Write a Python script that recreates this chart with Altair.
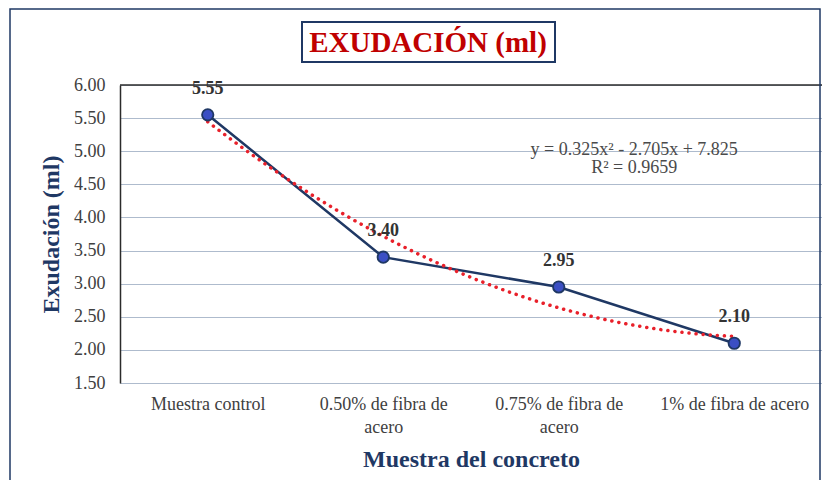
import json
import altair as alt
import pandas as pd

# ---- data ----
categories = ["Muestra control", "0.50% de fibra de acero", "0.75% de fibra de acero", "1% de fibra de acero"]
label_lines = [["Muestra control"], ["0.50% de fibra de", "acero"], ["0.75% de fibra de", "acero"], ["1% de fibra de acero"]]
positions = [1, 2, 3, 4]
exudacion = [5.55, 3.40, 2.95, 2.10]
value_labels = ["5.55", "3.40", "2.95", "2.10"]
y_ticks = [1.5, 2.0, 2.5, 3.0, 3.5, 4.0, 4.5, 5.0, 5.5, 6.0]
equation = ["y = 0.325x² - 2.705x + 7.825", "R² = 0.9659"]

df = pd.DataFrame({"idx": positions, "val": exudacion, "lab": value_labels, "cat": categories})

NAVY = "#1F3864"
SERIF = "Liberation Serif"

# label expression built from the label list
expr = "''"
for p, lines in reversed(list(zip(positions, label_lines))):
    expr = f"datum.value == {p} ? {json.dumps(lines)} : ({expr})"

x_enc = alt.X("idx:Q", scale=alt.Scale(domain=[0.5, 4.5], nice=False, zero=False),
              axis=alt.Axis(values=positions, labelExpr=expr, grid=False, ticks=False, domain=False,
                            labelFont=SERIF, labelFontSize=18, labelColor="#404040", labelPadding=12,
                            labelLineHeight=23, labelBaseline="top", labelOverlap=False,
                            title="Muestra del concreto", titleFont=SERIF, titleFontSize=24,
                            titleColor=NAVY, titleFontWeight="bold", titlePadding=11))
y_enc = alt.Y("val:Q", scale=alt.Scale(domain=[1.5, 6.0], nice=False, zero=False),
              axis=alt.Axis(values=y_ticks, format=".2f", grid=True, gridColor="#AEBBCD", gridWidth=1.2,
                            ticks=False, domain=True, domainColor="#2b2b2b", domainWidth=1.5,
                            labelOverlap=False, labelBound=False, labelFlush=False, tickCount=10,
                            labelFont=SERIF, labelFontSize=18, labelColor="#404040", labelPadding=15,
                            title="Exudación (ml)", titleFont=SERIF, titleFontSize=24,
                            titleColor=NAVY, titleFontWeight="bold", titlePadding=10))

base = alt.Chart(df)

line = base.mark_line(color=NAVY, strokeWidth=2.5).encode(x=x_enc, y=y_enc)

grid_top = alt.Chart(pd.DataFrame({"v": [6.0]})).mark_rule(color="#2b2b2b", strokeWidth=1.5).encode(
    y=alt.datum(y_ticks[-1]))

trend = base.transform_regression("idx", "val", method="poly", order=2, extent=[1, 4]).mark_line(
    color="#E8202A", strokeWidth=3.5, strokeDash=[0.1, 7], strokeCap="round").encode(x="idx:Q", y="val:Q")

points = base.mark_point(filled=True, size=130, fill="#3B4FC4", stroke=NAVY, strokeWidth=1.8, opacity=1).encode(
    x="idx:Q", y="val:Q")

labels = base.mark_text(font=SERIF, fontSize=18, fontWeight="bold", color="#333333", dy=-26).encode(
    x="idx:Q", y="val:Q", text="lab:N")

eq_df = pd.DataFrame({"t": equation, "x": [3.43, 3.43], "y": [5.02, 4.74]})
eq = alt.Chart(eq_df).mark_text(font=SERIF, fontSize=18, color="#4a4a4a").encode(
    x="x:Q", y="y:Q", text="t:N")

# decorative frames
frame = alt.Chart(pd.DataFrame({"a": [0]})).mark_rect(fill=None, stroke=NAVY, strokeWidth=1.5).encode(
    x=alt.value(-110), x2=alt.value(700), y=alt.value(-76), y2=alt.value(396))
title_box = alt.Chart(pd.DataFrame({"a": [0]})).mark_rect(fill="white", stroke=NAVY, strokeWidth=2).encode(
    x=alt.value(182), x2=alt.value(435), y=alt.value(-63), y2=alt.value(-23))
title_txt = alt.Chart(pd.DataFrame({"t": ["EXUDACIÓN (ml)"]})).mark_text(
    font=SERIF, fontSize=29, fontWeight="bold", color="#C00000").encode(
    x=alt.value(308), y=alt.value(-42), text="t:N")

chart = alt.layer(line, grid_top, trend, points, labels, eq, frame, title_box, title_txt).properties(
    width=702, height=298,
    autosize=alt.AutoSizeParams(type="none"),
    padding={"left": 112, "top": 77, "right": 0, "bottom": 97},
).configure_view(stroke=None).configure(background="white")

chart.save("out.html", embed_options={"renderer": "svg", "actions": False})
